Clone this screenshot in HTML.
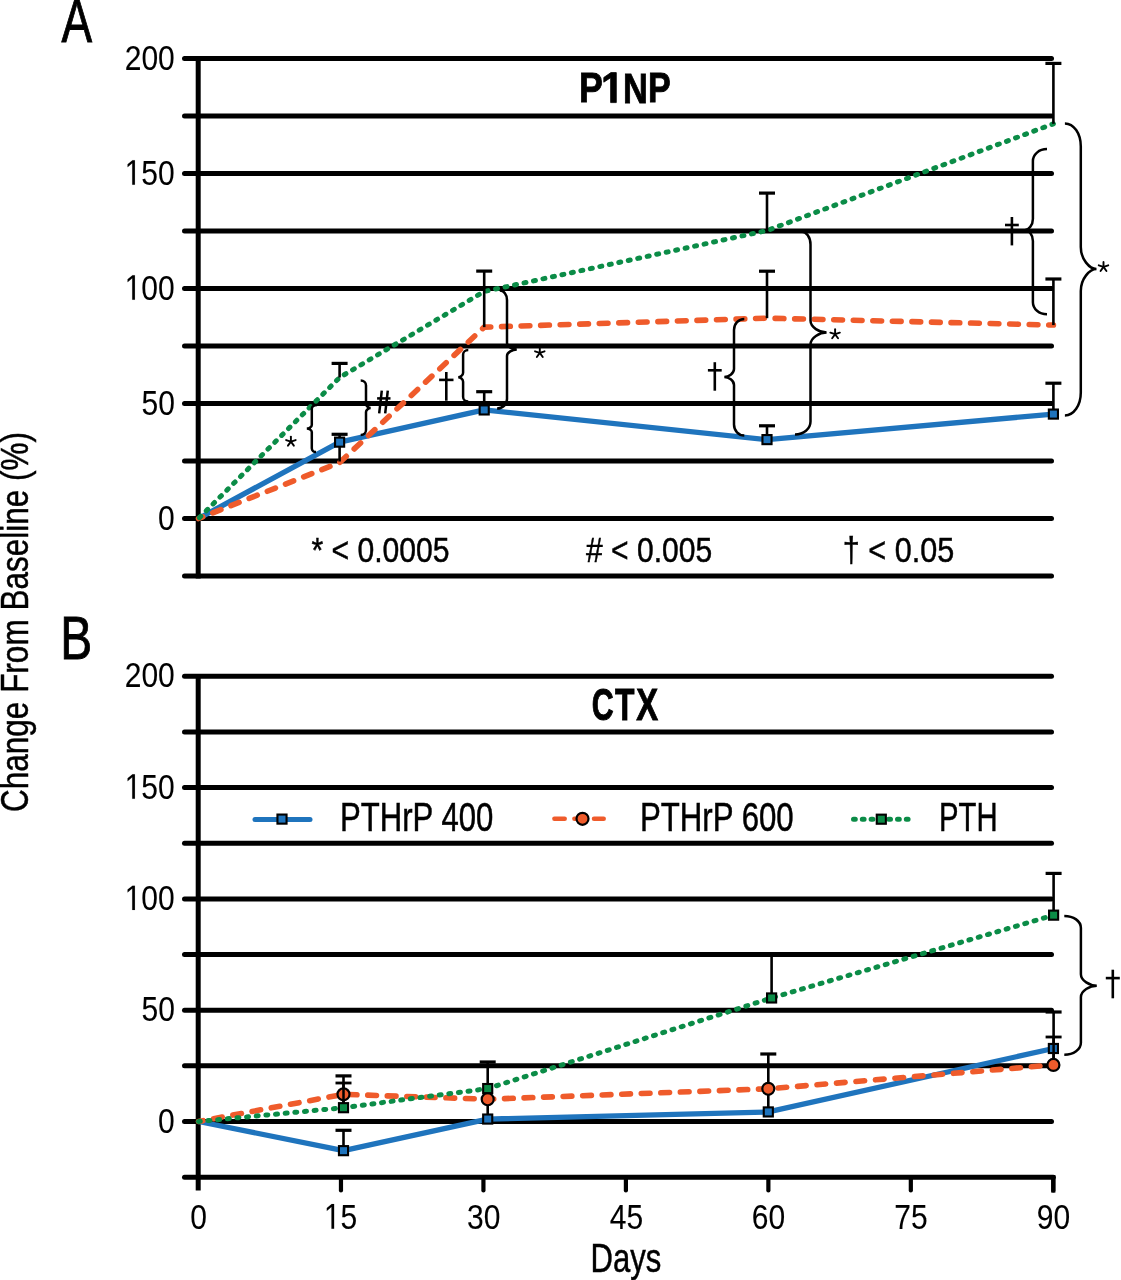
<!DOCTYPE html>
<html><head><meta charset="utf-8">
<style>
html,body{margin:0;padding:0;background:#fff;}
body{width:1121px;height:1280px;overflow:hidden;position:relative;}
svg{position:absolute;left:0;top:0;will-change:transform;}
text{font-family:"Liberation Sans",sans-serif;fill:#000;}
</style></head><body>
<svg width="1121" height="1280" viewBox="0 0 1121 1280">
<line x1="184.50" y1="576.00" x2="1051.50" y2="576.00" stroke="#000" stroke-width="5.0" stroke-linecap="round" />
<line x1="184.50" y1="518.50" x2="1051.50" y2="518.50" stroke="#000" stroke-width="5.0" stroke-linecap="round" />
<line x1="184.50" y1="461.00" x2="1051.50" y2="461.00" stroke="#000" stroke-width="5.0" stroke-linecap="round" />
<line x1="184.50" y1="403.50" x2="1051.50" y2="403.50" stroke="#000" stroke-width="5.0" stroke-linecap="round" />
<line x1="184.50" y1="346.00" x2="1051.50" y2="346.00" stroke="#000" stroke-width="5.0" stroke-linecap="round" />
<line x1="184.50" y1="288.50" x2="1051.50" y2="288.50" stroke="#000" stroke-width="5.0" stroke-linecap="round" />
<line x1="184.50" y1="231.00" x2="1051.50" y2="231.00" stroke="#000" stroke-width="5.0" stroke-linecap="round" />
<line x1="184.50" y1="173.50" x2="1051.50" y2="173.50" stroke="#000" stroke-width="5.0" stroke-linecap="round" />
<line x1="184.50" y1="116.00" x2="1051.50" y2="116.00" stroke="#000" stroke-width="5.0" stroke-linecap="round" />
<line x1="184.50" y1="58.50" x2="1051.50" y2="58.50" stroke="#000" stroke-width="5.0" stroke-linecap="round" />
<line x1="198.20" y1="58.50" x2="198.20" y2="578.50" stroke="#000" stroke-width="5.0" stroke-linecap="butt" />
<polyline points="198.50,518.50 339.60,442.14 484.20,409.94 767.00,439.61 1053.40,414.08" fill="none" stroke="#1f74bd" stroke-width="5.3" stroke-linecap="butt" stroke-linejoin="round"/>
<polyline points="198.50,518.50 339.60,462.61 484.20,327.14 767.00,318.17 1053.40,325.07" fill="none" stroke="#ef5b2b" stroke-width="5.6" stroke-linecap="round" stroke-linejoin="round" stroke-dasharray="8.7 10.85" stroke-dashoffset="4.15"/>
<polyline points="198.50,518.50 339.60,377.51 484.20,291.49 767.00,230.54 1053.40,123.82" fill="none" stroke="#0b8c47" stroke-width="5.0" stroke-linecap="round" stroke-linejoin="round" stroke-dasharray="2.0 7.695" stroke-dashoffset="8.445"/>
<line x1="339.60" y1="377.51" x2="339.60" y2="363.40" stroke="#000" stroke-width="2.6" stroke-linecap="butt" />
<line x1="331.60" y1="363.40" x2="347.60" y2="363.40" stroke="#000" stroke-width="3.2" stroke-linecap="butt" />
<line x1="339.60" y1="461.50" x2="339.60" y2="434.30" stroke="#000" stroke-width="2.6" stroke-linecap="butt" />
<line x1="331.60" y1="434.30" x2="347.60" y2="434.30" stroke="#000" stroke-width="3.2" stroke-linecap="butt" />
<line x1="484.20" y1="327.14" x2="484.20" y2="271.10" stroke="#000" stroke-width="2.6" stroke-linecap="butt" />
<line x1="476.20" y1="271.10" x2="492.20" y2="271.10" stroke="#000" stroke-width="3.2" stroke-linecap="butt" />
<line x1="484.20" y1="409.94" x2="484.20" y2="391.70" stroke="#000" stroke-width="2.6" stroke-linecap="butt" />
<line x1="476.20" y1="391.70" x2="492.20" y2="391.70" stroke="#000" stroke-width="3.2" stroke-linecap="butt" />
<line x1="767.00" y1="230.54" x2="767.00" y2="193.10" stroke="#000" stroke-width="2.6" stroke-linecap="butt" />
<line x1="759.00" y1="193.10" x2="775.00" y2="193.10" stroke="#000" stroke-width="3.2" stroke-linecap="butt" />
<line x1="767.00" y1="318.17" x2="767.00" y2="271.20" stroke="#000" stroke-width="2.6" stroke-linecap="butt" />
<line x1="759.00" y1="271.20" x2="775.00" y2="271.20" stroke="#000" stroke-width="3.2" stroke-linecap="butt" />
<line x1="767.00" y1="439.61" x2="767.00" y2="425.80" stroke="#000" stroke-width="2.6" stroke-linecap="butt" />
<line x1="759.00" y1="425.80" x2="775.00" y2="425.80" stroke="#000" stroke-width="3.2" stroke-linecap="butt" />
<line x1="1053.40" y1="123.82" x2="1053.40" y2="63.40" stroke="#000" stroke-width="2.6" stroke-linecap="butt" />
<line x1="1045.40" y1="63.40" x2="1061.40" y2="63.40" stroke="#000" stroke-width="3.2" stroke-linecap="butt" />
<line x1="1053.40" y1="325.07" x2="1053.40" y2="279.00" stroke="#000" stroke-width="2.6" stroke-linecap="butt" />
<line x1="1045.40" y1="279.00" x2="1061.40" y2="279.00" stroke="#000" stroke-width="3.2" stroke-linecap="butt" />
<line x1="1053.40" y1="414.08" x2="1053.40" y2="383.20" stroke="#000" stroke-width="2.6" stroke-linecap="butt" />
<line x1="1045.40" y1="383.20" x2="1061.40" y2="383.20" stroke="#000" stroke-width="3.2" stroke-linecap="butt" />
<rect x="335.05" y="437.59" width="9.10" height="9.10" fill="#1f74bd" stroke="#000" stroke-width="2.1"/>
<rect x="479.65" y="405.39" width="9.10" height="9.10" fill="#1f74bd" stroke="#000" stroke-width="2.1"/>
<rect x="762.45" y="435.06" width="9.10" height="9.10" fill="#1f74bd" stroke="#000" stroke-width="2.1"/>
<rect x="1048.85" y="409.53" width="9.10" height="9.10" fill="#1f74bd" stroke="#000" stroke-width="2.1"/>
<path d="M317.10,405.00 C314.13,405.00 311.80,406.67 311.80,408.80 L311.80,424.90 C311.80,426.92 309.00,428.50 306.80,428.50 C309.00,428.50 311.80,430.08 311.80,432.10 L311.80,448.30 C311.80,450.43 313.65,452.10 316.00,452.10" fill="none" stroke="#000" stroke-width="2.5" stroke-linecap="butt"/>
<path d="M360.70,380.40 C363.67,380.40 366.00,382.60 366.00,385.40 L366.00,404.00 C366.00,406.24 368.63,408.00 370.70,408.00 C368.63,408.00 366.00,409.76 366.00,412.00 L366.00,430.00 C366.00,432.80 363.67,435.00 360.70,435.00" fill="none" stroke="#000" stroke-width="2.5" stroke-linecap="butt"/>
<path d="M468.30,350.10 C465.39,350.10 463.10,352.08 463.10,354.60 L463.10,372.70 C463.10,375.22 460.36,377.20 458.20,377.20 C460.36,377.20 463.10,379.18 463.10,381.70 L463.10,397.00 C463.10,399.52 465.39,401.50 468.30,401.50" fill="none" stroke="#000" stroke-width="2.5" stroke-linecap="butt"/>
<path d="M499.80,290.40 C503.83,290.40 507.00,294.58 507.00,299.90 L507.00,343.00 C507.00,346.64 512.49,349.50 516.80,349.50 C512.49,349.50 507.00,352.36 507.00,356.00 L507.00,399.00 C507.00,404.32 502.64,408.50 497.10,408.50" fill="none" stroke="#000" stroke-width="2.5" stroke-linecap="butt"/>
<path d="M744.30,319.00 C738.53,319.00 734.00,323.84 734.00,330.00 L734.00,369.00 C734.00,373.48 728.57,377.00 724.30,377.00 C728.57,377.00 734.00,380.52 734.00,385.00 L734.00,424.50 C734.00,430.66 738.53,435.50 744.30,435.50" fill="none" stroke="#000" stroke-width="2.5" stroke-linecap="butt"/>
<path d="M801.10,231.40 C806.36,231.40 810.50,237.12 810.50,244.40 L810.50,320.60 C810.50,327.32 819.52,332.60 826.60,332.60 C819.52,332.60 810.50,337.88 810.50,344.60 L810.50,421.60 C810.50,428.88 803.68,434.60 795.00,434.60" fill="none" stroke="#000" stroke-width="2.5" stroke-linecap="butt"/>
<path d="M1047.00,149.10 C1039.10,149.10 1032.90,154.38 1032.90,161.10 L1032.90,218.90 C1032.90,225.06 1028.59,229.90 1025.20,229.90 C1028.59,229.90 1032.90,234.74 1032.90,240.90 L1032.90,302.20 C1032.90,308.92 1039.10,314.20 1047.00,314.20" fill="none" stroke="#000" stroke-width="2.5" stroke-linecap="butt"/>
<path d="M1064.90,123.40 C1073.80,123.40 1080.80,133.52 1080.80,146.40 L1080.80,247.00 C1080.80,259.32 1089.59,269.00 1096.50,269.00 C1089.59,269.00 1080.80,278.68 1080.80,291.00 L1080.80,392.40 C1080.80,405.28 1073.80,415.40 1064.90,415.40" fill="none" stroke="#000" stroke-width="2.5" stroke-linecap="butt"/>
<line x1="290.90" y1="441.60" x2="290.90" y2="436.60" stroke="#000" stroke-width="1.9" stroke-linecap="round" />
<line x1="290.90" y1="441.60" x2="295.66" y2="440.05" stroke="#000" stroke-width="1.9" stroke-linecap="round" />
<line x1="290.90" y1="441.60" x2="286.14" y2="440.05" stroke="#000" stroke-width="1.9" stroke-linecap="round" />
<line x1="290.90" y1="441.60" x2="293.84" y2="445.65" stroke="#000" stroke-width="1.9" stroke-linecap="round" />
<line x1="290.90" y1="441.60" x2="287.96" y2="445.65" stroke="#000" stroke-width="1.9" stroke-linecap="round" />
<line x1="381.80" y1="390.70" x2="379.20" y2="413.40" stroke="#000" stroke-width="2.5" stroke-linecap="butt" />
<line x1="387.80" y1="390.70" x2="385.20" y2="413.40" stroke="#000" stroke-width="2.5" stroke-linecap="butt" />
<line x1="377.10" y1="398.40" x2="390.50" y2="398.40" stroke="#000" stroke-width="2.5" stroke-linecap="butt" />
<line x1="376.50" y1="403.50" x2="390.00" y2="403.50" stroke="#000" stroke-width="2.5" stroke-linecap="butt" />
<line x1="446.30" y1="372.00" x2="446.30" y2="400.70" stroke="#000" stroke-width="2.6" stroke-linecap="butt" />
<line x1="439.10" y1="379.90" x2="453.50" y2="379.90" stroke="#000" stroke-width="2.6" stroke-linecap="butt" />
<line x1="539.80" y1="352.90" x2="539.80" y2="347.90" stroke="#000" stroke-width="1.9" stroke-linecap="round" />
<line x1="539.80" y1="352.90" x2="544.56" y2="351.35" stroke="#000" stroke-width="1.9" stroke-linecap="round" />
<line x1="539.80" y1="352.90" x2="535.04" y2="351.35" stroke="#000" stroke-width="1.9" stroke-linecap="round" />
<line x1="539.80" y1="352.90" x2="542.74" y2="356.95" stroke="#000" stroke-width="1.9" stroke-linecap="round" />
<line x1="539.80" y1="352.90" x2="536.86" y2="356.95" stroke="#000" stroke-width="1.9" stroke-linecap="round" />
<line x1="714.80" y1="362.20" x2="714.80" y2="390.70" stroke="#000" stroke-width="2.6" stroke-linecap="butt" />
<line x1="707.90" y1="370.30" x2="721.70" y2="370.30" stroke="#000" stroke-width="2.6" stroke-linecap="butt" />
<line x1="835.10" y1="334.20" x2="835.10" y2="329.20" stroke="#000" stroke-width="1.9" stroke-linecap="round" />
<line x1="835.10" y1="334.20" x2="839.86" y2="332.65" stroke="#000" stroke-width="1.9" stroke-linecap="round" />
<line x1="835.10" y1="334.20" x2="830.34" y2="332.65" stroke="#000" stroke-width="1.9" stroke-linecap="round" />
<line x1="835.10" y1="334.20" x2="838.04" y2="338.25" stroke="#000" stroke-width="1.9" stroke-linecap="round" />
<line x1="835.10" y1="334.20" x2="832.16" y2="338.25" stroke="#000" stroke-width="1.9" stroke-linecap="round" />
<line x1="1011.90" y1="217.00" x2="1011.90" y2="245.40" stroke="#000" stroke-width="2.6" stroke-linecap="butt" />
<line x1="1005.00" y1="225.00" x2="1018.80" y2="225.00" stroke="#000" stroke-width="2.6" stroke-linecap="butt" />
<line x1="1103.50" y1="266.90" x2="1103.50" y2="261.90" stroke="#000" stroke-width="1.9" stroke-linecap="round" />
<line x1="1103.50" y1="266.90" x2="1108.26" y2="265.35" stroke="#000" stroke-width="1.9" stroke-linecap="round" />
<line x1="1103.50" y1="266.90" x2="1098.74" y2="265.35" stroke="#000" stroke-width="1.9" stroke-linecap="round" />
<line x1="1103.50" y1="266.90" x2="1106.44" y2="270.95" stroke="#000" stroke-width="1.9" stroke-linecap="round" />
<line x1="1103.50" y1="266.90" x2="1100.56" y2="270.95" stroke="#000" stroke-width="1.9" stroke-linecap="round" />
<line x1="184.50" y1="1177.15" x2="1053.30" y2="1177.15" stroke="#000" stroke-width="5.0" stroke-linecap="round" />
<line x1="184.50" y1="1121.50" x2="1051.50" y2="1121.50" stroke="#000" stroke-width="5.0" stroke-linecap="round" />
<line x1="184.50" y1="1065.85" x2="1051.50" y2="1065.85" stroke="#000" stroke-width="5.0" stroke-linecap="round" />
<line x1="184.50" y1="1010.20" x2="1051.50" y2="1010.20" stroke="#000" stroke-width="5.0" stroke-linecap="round" />
<line x1="184.50" y1="954.55" x2="1051.50" y2="954.55" stroke="#000" stroke-width="5.0" stroke-linecap="round" />
<line x1="184.50" y1="898.90" x2="1051.50" y2="898.90" stroke="#000" stroke-width="5.0" stroke-linecap="round" />
<line x1="184.50" y1="843.25" x2="1051.50" y2="843.25" stroke="#000" stroke-width="5.0" stroke-linecap="round" />
<line x1="184.50" y1="787.60" x2="1051.50" y2="787.60" stroke="#000" stroke-width="5.0" stroke-linecap="round" />
<line x1="184.50" y1="731.95" x2="1051.50" y2="731.95" stroke="#000" stroke-width="5.0" stroke-linecap="round" />
<line x1="184.50" y1="676.30" x2="1051.50" y2="676.30" stroke="#000" stroke-width="5.0" stroke-linecap="round" />
<line x1="198.20" y1="676.30" x2="198.20" y2="1190.50" stroke="#000" stroke-width="5.0" stroke-linecap="butt" />
<line x1="340.97" y1="1177.15" x2="340.97" y2="1190.50" stroke="#000" stroke-width="4.2" stroke-linecap="round" />
<line x1="483.43" y1="1177.15" x2="483.43" y2="1190.50" stroke="#000" stroke-width="4.2" stroke-linecap="round" />
<line x1="625.90" y1="1177.15" x2="625.90" y2="1190.50" stroke="#000" stroke-width="4.2" stroke-linecap="round" />
<line x1="768.37" y1="1177.15" x2="768.37" y2="1190.50" stroke="#000" stroke-width="4.2" stroke-linecap="round" />
<line x1="910.83" y1="1177.15" x2="910.83" y2="1190.50" stroke="#000" stroke-width="4.2" stroke-linecap="round" />
<line x1="1053.30" y1="1177.15" x2="1053.30" y2="1190.50" stroke="#000" stroke-width="4.2" stroke-linecap="round" />
<line x1="1053.30" y1="1177.15" x2="1053.30" y2="1190.50" stroke="#000" stroke-width="4.2" stroke-linecap="square" />
<polyline points="198.50,1121.50 343.50,1150.66 487.70,1119.05 768.30,1111.93 1053.40,1048.49" fill="none" stroke="#1f74bd" stroke-width="5.3" stroke-linecap="butt" stroke-linejoin="round"/>
<polyline points="198.50,1121.50 343.50,1094.34 487.70,1099.24 768.30,1088.78 1053.40,1064.96" fill="none" stroke="#ef5b2b" stroke-width="5.6" stroke-linecap="round" stroke-linejoin="round" stroke-dasharray="8.7 10.85" stroke-dashoffset="4.15"/>
<polyline points="198.50,1121.50 343.50,1107.70 487.70,1088.56 771.60,997.96 1053.60,915.15" fill="none" stroke="#0b8c47" stroke-width="5.0" stroke-linecap="round" stroke-linejoin="round" stroke-dasharray="2.0 7.695" stroke-dashoffset="9.895"/>
<line x1="343.50" y1="1107.70" x2="343.50" y2="1075.90" stroke="#000" stroke-width="2.6" stroke-linecap="butt" />
<line x1="335.50" y1="1075.90" x2="351.50" y2="1075.90" stroke="#000" stroke-width="3.2" stroke-linecap="butt" />
<line x1="335.50" y1="1083.00" x2="351.50" y2="1083.00" stroke="#000" stroke-width="2.8" stroke-linecap="butt" />
<line x1="343.50" y1="1150.66" x2="343.50" y2="1130.30" stroke="#000" stroke-width="2.6" stroke-linecap="butt" />
<line x1="335.50" y1="1130.30" x2="351.50" y2="1130.30" stroke="#000" stroke-width="3.2" stroke-linecap="butt" />
<line x1="487.70" y1="1119.05" x2="487.70" y2="1062.00" stroke="#000" stroke-width="2.6" stroke-linecap="butt" />
<line x1="479.70" y1="1062.00" x2="495.70" y2="1062.00" stroke="#000" stroke-width="3.2" stroke-linecap="butt" />
<line x1="771.60" y1="997.96" x2="771.60" y2="954.50" stroke="#000" stroke-width="2.6" stroke-linecap="butt" />
<line x1="763.60" y1="954.50" x2="779.60" y2="954.50" stroke="#000" stroke-width="3.2" stroke-linecap="butt" />
<line x1="768.30" y1="1111.93" x2="768.30" y2="1054.00" stroke="#000" stroke-width="2.6" stroke-linecap="butt" />
<line x1="760.30" y1="1054.00" x2="776.30" y2="1054.00" stroke="#000" stroke-width="3.2" stroke-linecap="butt" />
<line x1="1053.60" y1="915.15" x2="1053.60" y2="873.40" stroke="#000" stroke-width="2.6" stroke-linecap="butt" />
<line x1="1045.60" y1="873.40" x2="1061.60" y2="873.40" stroke="#000" stroke-width="3.2" stroke-linecap="butt" />
<line x1="1053.60" y1="1064.96" x2="1053.60" y2="1012.00" stroke="#000" stroke-width="2.6" stroke-linecap="butt" />
<line x1="1045.60" y1="1012.00" x2="1061.60" y2="1012.00" stroke="#000" stroke-width="3.2" stroke-linecap="butt" />
<line x1="1045.60" y1="1037.00" x2="1061.60" y2="1037.00" stroke="#000" stroke-width="2.8" stroke-linecap="butt" />
<rect x="338.95" y="1146.11" width="9.10" height="9.10" fill="#1f74bd" stroke="#000" stroke-width="2.1"/>
<circle cx="343.50" cy="1094.34" r="6.00" fill="#ef5b2b" stroke="#000" stroke-width="2.2"/>
<rect x="338.95" y="1103.15" width="9.10" height="9.10" fill="#0b8c47" stroke="#000" stroke-width="2.1"/>
<rect x="483.15" y="1114.50" width="9.10" height="9.10" fill="#1f74bd" stroke="#000" stroke-width="2.1"/>
<circle cx="487.70" cy="1099.24" r="6.00" fill="#ef5b2b" stroke="#000" stroke-width="2.2"/>
<rect x="483.15" y="1084.01" width="9.10" height="9.10" fill="#0b8c47" stroke="#000" stroke-width="2.1"/>
<rect x="763.75" y="1107.38" width="9.10" height="9.10" fill="#1f74bd" stroke="#000" stroke-width="2.1"/>
<circle cx="768.30" cy="1088.78" r="6.00" fill="#ef5b2b" stroke="#000" stroke-width="2.2"/>
<rect x="767.05" y="993.41" width="9.10" height="9.10" fill="#0b8c47" stroke="#000" stroke-width="2.1"/>
<rect x="1048.85" y="1043.94" width="9.10" height="9.10" fill="#1f74bd" stroke="#000" stroke-width="2.1"/>
<circle cx="1053.40" cy="1064.96" r="6.00" fill="#ef5b2b" stroke="#000" stroke-width="2.2"/>
<rect x="1049.05" y="910.60" width="9.10" height="9.10" fill="#0b8c47" stroke="#000" stroke-width="2.1"/>
<line x1="343.50" y1="1083.00" x2="343.50" y2="1102.70" stroke="#000" stroke-width="2.5" stroke-linecap="butt" />
<line x1="1053.60" y1="1037.00" x2="1053.60" y2="1058.96" stroke="#000" stroke-width="2.5" stroke-linecap="butt" />
<path d="M1064.30,915.90 C1073.60,915.90 1080.90,921.18 1080.90,927.90 L1080.90,974.20 C1080.90,980.64 1089.80,985.70 1096.80,985.70 C1089.80,985.70 1080.90,990.76 1080.90,997.20 L1080.90,1042.70 C1080.90,1049.42 1073.60,1054.70 1064.30,1054.70" fill="none" stroke="#000" stroke-width="2.5" stroke-linecap="butt"/>
<line x1="1112.80" y1="969.70" x2="1112.80" y2="998.30" stroke="#000" stroke-width="2.6" stroke-linecap="butt" />
<line x1="1105.80" y1="978.10" x2="1119.80" y2="978.10" stroke="#000" stroke-width="2.6" stroke-linecap="butt" />
<line x1="255.00" y1="819.40" x2="310.00" y2="819.40" stroke="#1f74bd" stroke-width="5" stroke-linecap="round" />
<rect x="277.45" y="814.55" width="9.10" height="9.10" fill="#1f74bd" stroke="#000" stroke-width="2.1"/>
<line x1="554.40" y1="818.70" x2="564.70" y2="818.70" stroke="#ef5b2b" stroke-width="4.5" stroke-linecap="round" />
<line x1="574.40" y1="818.70" x2="580.00" y2="818.70" stroke="#ef5b2b" stroke-width="4.5" stroke-linecap="round" />
<line x1="594.00" y1="818.70" x2="603.70" y2="818.70" stroke="#ef5b2b" stroke-width="4.5" stroke-linecap="round" />
<circle cx="582.50" cy="818.80" r="6.00" fill="#ef5b2b" stroke="#000" stroke-width="2.2"/>
<polyline points="853.50,819.20 909.00,819.20" fill="none" stroke="#0b8c47" stroke-width="5.0" stroke-linecap="round" stroke-linejoin="round" stroke-dasharray="1.8 7.0" stroke-dashoffset="0"/>
<rect x="876.75" y="814.65" width="9.10" height="9.10" fill="#0b8c47" stroke="#000" stroke-width="2.1"/>
<text x="100" y="130" font-size="100" font-weight="normal" stroke="#000" stroke-width="0.306" transform="matrix(0.30000,0,0,0.35437,94.700,23.558)">200</text>
<g transform="matrix(0.30000,0,0,0.35437,94.700,138.558)"><path d="M515,0 L515,1237 L197,1010 L197,1180 L530,1409 L696,1409 L696,0 Z" transform="matrix(0.048828,0,0,-0.048828,100.000,130)" stroke="#000" stroke-width="6.26"/><text x="155.615" y="130" font-size="100" font-weight="normal" stroke="#000" stroke-width="0.306">50</text></g>
<g transform="matrix(0.30000,0,0,0.35437,94.700,253.558)"><path d="M515,0 L515,1237 L197,1010 L197,1180 L530,1409 L696,1409 L696,0 Z" transform="matrix(0.048828,0,0,-0.048828,100.000,130)" stroke="#000" stroke-width="6.26"/><text x="155.615" y="130" font-size="100" font-weight="normal" stroke="#000" stroke-width="0.306">00</text></g>
<text x="100" y="130" font-size="100" font-weight="normal" stroke="#000" stroke-width="0.306" transform="matrix(0.30000,0,0,0.35437,111.500,368.558)">50</text>
<text x="100" y="130" font-size="100" font-weight="normal" stroke="#000" stroke-width="0.306" transform="matrix(0.30000,0,0,0.35437,128.000,483.558)">0</text>
<text x="100" y="130" font-size="100" font-weight="normal" stroke="#000" stroke-width="0.306" transform="matrix(0.30000,0,0,0.35437,94.700,641.358)">200</text>
<g transform="matrix(0.30000,0,0,0.35437,94.700,752.658)"><path d="M515,0 L515,1237 L197,1010 L197,1180 L530,1409 L696,1409 L696,0 Z" transform="matrix(0.048828,0,0,-0.048828,100.000,130)" stroke="#000" stroke-width="6.26"/><text x="155.615" y="130" font-size="100" font-weight="normal" stroke="#000" stroke-width="0.306">50</text></g>
<g transform="matrix(0.30000,0,0,0.35437,94.700,863.958)"><path d="M515,0 L515,1237 L197,1010 L197,1180 L530,1409 L696,1409 L696,0 Z" transform="matrix(0.048828,0,0,-0.048828,100.000,130)" stroke="#000" stroke-width="6.26"/><text x="155.615" y="130" font-size="100" font-weight="normal" stroke="#000" stroke-width="0.306">00</text></g>
<text x="100" y="130" font-size="100" font-weight="normal" stroke="#000" stroke-width="0.306" transform="matrix(0.30000,0,0,0.35437,111.500,975.258)">50</text>
<text x="100" y="130" font-size="100" font-weight="normal" stroke="#000" stroke-width="0.306" transform="matrix(0.30000,0,0,0.35437,128.000,1086.558)">0</text>
<text x="100" y="130" font-size="100" font-weight="normal" stroke="#000" stroke-width="0.306" transform="matrix(0.30000,0,0,0.35437,160.300,1182.608)">0</text>
<g transform="matrix(0.30000,0,0,0.35943,293.917,1181.945)"><path d="M515,0 L515,1237 L197,1010 L197,1180 L530,1409 L696,1409 L696,0 Z" transform="matrix(0.048828,0,0,-0.048828,100.000,130)" stroke="#000" stroke-width="6.21"/><text x="155.615" y="130" font-size="100" font-weight="normal" stroke="#000" stroke-width="0.303">5</text></g>
<text x="100" y="130" font-size="100" font-weight="normal" stroke="#000" stroke-width="0.306" transform="matrix(0.30000,0,0,0.35437,436.983,1182.608)">30</text>
<text x="100" y="130" font-size="100" font-weight="normal" stroke="#000" stroke-width="0.306" transform="matrix(0.30000,0,0,0.35437,579.750,1182.608)">45</text>
<text x="100" y="130" font-size="100" font-weight="normal" stroke="#000" stroke-width="0.306" transform="matrix(0.30000,0,0,0.35437,721.767,1182.608)">60</text>
<text x="100" y="130" font-size="100" font-weight="normal" stroke="#000" stroke-width="0.306" transform="matrix(0.30000,0,0,0.35437,864.233,1182.608)">75</text>
<text x="100" y="130" font-size="100" font-weight="normal" stroke="#000" stroke-width="0.306" transform="matrix(0.30000,0,0,0.35437,1006.700,1182.608)">90</text>
<text x="100" y="130" font-size="100" font-weight="normal" stroke="#000" stroke-width="1.498" transform="matrix(0.45909,0,0,0.60870,15.491,-37.130)">A</text>
<text x="100" y="130" font-size="100" font-weight="normal" stroke="#000" stroke-width="1.473" transform="matrix(0.47925,0,0,0.60725,12.342,580.358)">B</text>
<text x="100" y="130" font-size="100" font-weight="bold" stroke="#000" stroke-width="2.048" transform="matrix(0.35714,0,0,0.42429,543.386,47.319)">P</text>
<g transform="matrix(0.41357,0,0,0.43605,559.616,45.913)"><path d="M478,0 L478,1170 L140,959 L140,1180 L493,1409 L759,1409 L759,0 Z" transform="matrix(0.048828,0,0,-0.048828,100,130)" stroke="#000" stroke-width="38.57"/></g>
<text x="100" y="130" font-size="100" font-weight="bold" stroke="#000" stroke-width="2.066" transform="matrix(0.34407,0,0,0.43043,588.585,46.943)">N</text>
<text x="100" y="130" font-size="100" font-weight="bold" stroke="#000" stroke-width="2.091" transform="matrix(0.34107,0,0,0.42429,613.805,47.319)">P</text>
<text x="100" y="130" font-size="100" font-weight="bold" stroke="#000" stroke-width="2.163" transform="matrix(0.30308,0,0,0.43662,561.380,663.403)">C</text>
<text x="100" y="130" font-size="100" font-weight="bold" stroke="#000" stroke-width="2.115" transform="matrix(0.31864,0,0,0.43768,583.117,663.301)">T</text>
<text x="100" y="130" font-size="100" font-weight="bold" stroke="#000" stroke-width="2.090" transform="matrix(0.32769,0,0,0.43768,603.603,663.301)">X</text>
<text x="100" y="130" font-size="100" font-weight="normal" stroke="#000" stroke-width="1.377" transform="matrix(0.30132,0,0,0.35211,281.265,515.873)">* &lt; 0.0005</text>
<text x="100" y="130" font-size="100" font-weight="normal" stroke="#000" stroke-width="1.379" transform="matrix(0.30048,0,0,0.35211,555.952,515.873)"># &lt; 0.005</text>
<text x="100" y="130" font-size="100" font-weight="normal" stroke="#000" stroke-width="1.368" transform="matrix(0.30595,0,0,0.35211,812.263,515.873)">† &lt; 0.05</text>
<text x="100" y="130" font-size="100" font-weight="normal" stroke="#000" stroke-width="1.261" transform="matrix(0.31081,0,0,0.40282,309.032,778.831)">PTHrP 400</text>
<text x="100" y="130" font-size="100" font-weight="normal" stroke="#000" stroke-width="1.259" transform="matrix(0.31185,0,0,0.40282,608.820,778.831)">PTHrP 600</text>
<text x="100" y="130" font-size="100" font-weight="normal" stroke="#000" stroke-width="1.287" transform="matrix(0.29239,0,0,0.40714,909.822,778.164)">PTH</text>
<text x="100" y="130" font-size="100" font-weight="normal" stroke="#000" stroke-width="1.256" transform="matrix(0.31065,0,0,0.40580,559.450,1219.346)">Days</text>
<text x="100" y="130" font-size="50" stroke="#000" stroke-width="0.636" transform="matrix(0,-0.63032,0.78478,0,-73.770,875.023)">Change From Baseline (%)</text>
</svg>
</body></html>
